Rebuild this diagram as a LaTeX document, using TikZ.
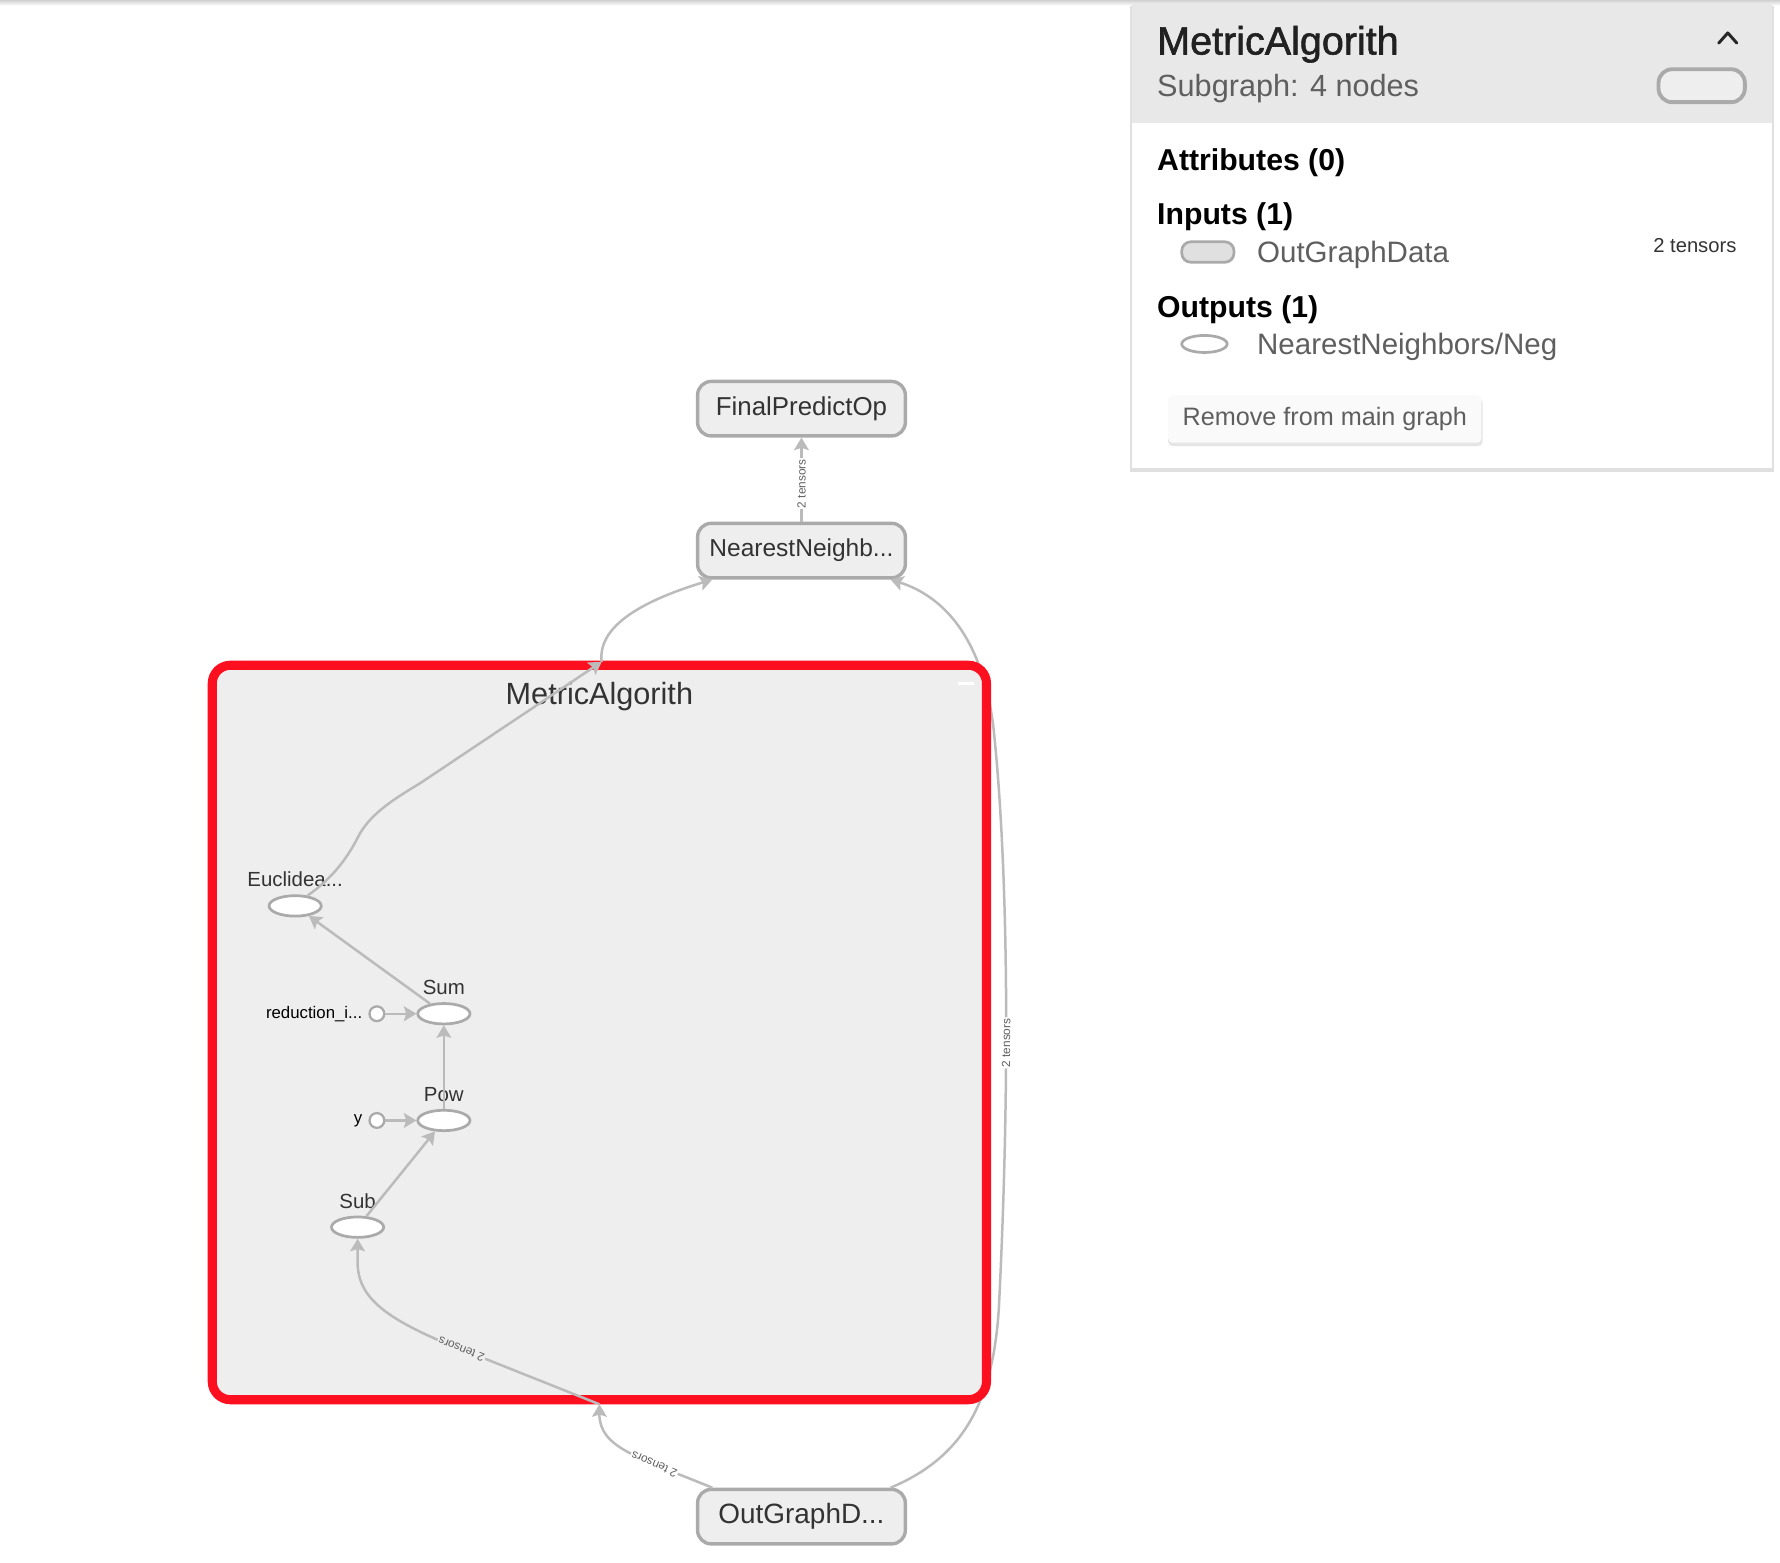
\documentclass[tikz,border=0pt]{standalone}
\usepackage{fontspec}
\setmainfont{Liberation Sans}
\newfontfamily\medfont[FakeBold=1.5]{Liberation Sans}
\usetikzlibrary{shapes.geometric,arrows.meta,positioning,calc}

\definecolor{edgegray}{HTML}{BBBBBB}
\definecolor{boxline}{HTML}{AAAAAA}
\definecolor{boxfill}{HTML}{EEEEEE}
\definecolor{grpred}{HTML}{FC0F1F}
\definecolor{txtdark}{HTML}{333333}
\definecolor{txtgray}{HTML}{5F5F5F}
\definecolor{headfill}{HTML}{E8E8E8}

\tikzset{
  opbox/.style={draw=boxline, fill=boxfill, line width=1.5pt, rounded corners=6pt,
    minimum width=91.5pt, minimum height=24pt, inner sep=0pt, text=txtdark,
    font=\fontsize{11}{13}\selectfont},
  opnode/.style={ellipse, draw=boxline, fill=white, line width=1.2pt,
    minimum width=23pt, minimum height=9pt, inner sep=0pt},
  opname/.style={font=\fontsize{9}{11}\selectfont, text=txtdark, inner sep=1pt, label distance=2pt},
  constnode/.style={circle, draw=boxline, fill=white, line width=1pt,
    minimum size=6.5pt, inner sep=0pt},
  constname/.style={font=\fontsize{7.4}{9}\selectfont, text=black, inner sep=2.5pt},
  edge/.style={draw=edgegray, line width=1.1pt, -{Stealth[length=5.5pt,width=6.5pt,inset=1pt]}},
  elabel/.style={font=\fontsize{5.2}{6}\selectfont, text=txtgray, inner sep=0.5pt,
    sloped, allow upside down},
  head/.style={anchor=base west, inner sep=0pt, font=\bfseries\fontsize{13.3}{15}\selectfont, text=black},
  item/.style={anchor=base west, inner sep=0pt, font=\fontsize{13}{15}\selectfont, text=txtgray}
}

\begin{document}
\begin{tikzpicture}[x=0.5pt, y=-0.5pt]
\useasboundingbox (0,0) rectangle (1568,1376);
% top shadow
\shade[top color=black!18, bottom color=white] (0,0) rectangle (1568,5);

% outer ops
\node[opbox, font=\fontsize{11.4}{13}\selectfont] (final) at (706,360) {FinalPredictOp};
\node[opbox, font=\fontsize{10.8}{13}\selectfont] (nn) at (706,485) {NearestNeighb...};
\node[opbox, font=\fontsize{12.3}{14}\selectfont] (out) at (706,1336) {OutGraphD...};

% edge passing behind the group
\draw[edge] (out.18) .. controls (845,1285) and (875,1240) .. (880,1150)
  .. controls (890,950) and (888,760) .. node[elabel, fill=white, pos=0.4] {2 tensors} (875,640)
  .. controls (865,560) and (830,525) .. (nn.-18);

% group
\node[draw=grpred, fill=boxfill, line width=4pt, rounded corners=8pt,
  minimum width=341pt, minimum height=323.5pt, inner sep=0pt] (grp) at (528,909.5) {};
\node[font=\fontsize{13.5}{16}\selectfont, text=txtdark] (grptitle) at (528,614) {MetricAlgorith};
\draw[white, line width=1.5pt] (844,602) -- (858,602);
\coordinate (gin) at (528,1237);
\coordinate (gout) at (530,583);

% ops inside the group
\node[opnode, label={[opname]above:Euclidea...}] (euc) at (260,798) {};
\node[opnode, label={[opname]above:Sum}] (sum) at (391,893) {};
\node[opnode, label={[opname]above:Pow}] (pow) at (391,987) {};
\node[opnode, label={[opname]above:Sub}] (sub) at (315,1081) {};
\node[constnode, label={[constname]left:reduction\_i...}] (redc) at (332,893) {};
\node[constnode, label={[constname]left:y}] (yc) at (332,987) {};

% edges
\draw[edge] (redc) -- (sum);
\draw[edge] (yc) -- (pow);
\draw[edge] (pow) -- (sum);
\draw[edge] (sub) -- (pow);
\draw[edge] (sum) -- (euc);
\draw[edge] (euc.40) .. controls (290,776) and (305,758) .. (315,738)
  .. controls (325,718) and (345,705) .. (370,690) -- (gout);
\draw[edge] (gout) .. controls (526,550) and (570,528) .. (nn.198);
\draw[edge] (nn) -- node[elabel, fill=white, pos=0.45] {2 tensors} (final);
\draw[edge] (out.162) .. controls (560,1283) and (528,1275) ..
  node[elabel, fill=white, pos=0.3] {2 tensors} (gin);
\draw[edge] (gin) -- node[elabel, fill=boxfill, pos=0.85] {2 tensors} (385,1180)
  .. controls (335,1158) and (315,1140) .. (315,1112) -- (sub);

% info panel
\fill[black!12] (995,5) rectangle (1563,416);
\fill[white] (997,3) rectangle (1561,412);
\fill[headfill] (997,3) rectangle (1561,108);
\node[anchor=base west, inner sep=0pt, font=\medfont\fontsize{17.4}{20}\selectfont, text=black!87] (ptitle) at (1019,48) {MetricAlgorith};
\node[anchor=base west, inner sep=0pt, font=\fontsize{13.5}{16}\selectfont, text=txtgray] (psub) at (1019,85) {Subgraph: 4 nodes};
\draw[black!85, line width=1.3pt, line cap=round, line join=round] (1514,38) -- (1522,29) -- (1530,38);
\draw[boxline, fill=boxfill, line width=1.7pt, rounded corners=6pt] (1461,61) rectangle (1537,90);
\node[head] (pattr) at (1019,150) {Attributes (0)};
\node[head] (pin) at (1019,198) {Inputs (1)};
\draw[boxline, fill=black!12, line width=1.2pt, rounded corners=4pt] (1041,213) rectangle (1087,231);
\node[item] (pindata) at (1107,231) {OutGraphData};
\node[anchor=base east, inner sep=0pt, font=\fontsize{8.9}{10}\selectfont, text=txtdark] (pincount) at (1530,222) {2 tensors};
\node[head] (pout) at (1019,280) {Outputs (1)};
\draw[boxline, fill=white, line width=1.2pt] (1061,303) ellipse [x radius=20, y radius=7.5];
\node[item] (poutdata) at (1107,312) {NearestNeighbors/Neg};
\fill[black!10, rounded corners=2pt] (1029,351) rectangle (1306,393);
\node[fill=black!2, rounded corners=2pt, minimum width=138pt, minimum height=21pt, inner sep=0pt,
  font=\fontsize{11.1}{13}\selectfont, text=txtgray] (rmbtn) at (1167,369) {Remove from main graph};
\end{tikzpicture}
\end{document}
